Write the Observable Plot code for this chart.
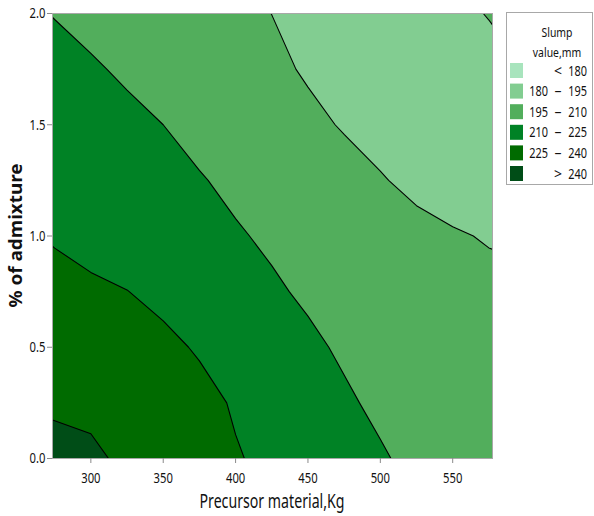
<!DOCTYPE html>
<html>
<head>
<meta charset="utf-8">
<script src="https://cdn.jsdelivr.net/npm/d3@7"></script>
<script src="https://cdn.jsdelivr.net/npm/@observablehq/plot@0.6"></script>
<style>
  html, body { margin: 0; padding: 0; background: #fff; }
  #chart svg { display: block; }
</style>
</head>
<body>
<div id="chart"></div>
<script>
// ---- Data (slump value, mm, on a grid) ----
const xGrid = [250, 275, 300, 325, 350, 375, 400, 425, 450, 475, 500, 525, 550, 575, 600];
const yGrid = [2.0, 1.75, 1.5, 1.25, 1.0, 0.75, 0.5, 0.25, 0.0];
const slumpAt2_00 = [212.0, 209.6, 207.2, 204.7, 202.3, 199.9, 197.4, 194.95, 194.0, 193.4, 193.1, 193.3, 193.9, 195.2, 196.6];
const slumpAt1_75 = [215.5, 213.3, 211.1, 208.6, 205.7, 202.8, 199.9, 197.0, 194.0, 193.3, 193.0, 192.6, 192.6, 193.5, 195.0];
const slumpAt1_50 = [219.2, 216.9, 214.6, 212.3, 210.0, 206.8, 203.5, 200.3, 197.1, 194.3, 193.5, 192.6, 192.3, 193.1, 194.3];
const slumpAt1_25 = [223.0, 220.5, 218.0, 215.6, 213.1, 210.7, 207.8, 204.7, 201.6, 198.3, 195.3, 194.0, 193.0, 193.6, 194.5];
const slumpAt1_00 = [226.6, 224.0, 221.4, 218.8, 216.2, 213.6, 211.0, 208.4, 206.0, 203.5, 200.0, 196.2, 195.4, 194.7, 194.5];
const slumpAt0_75 = [230.3, 228.6, 226.9, 225.2, 221.9, 218.4, 214.9, 211.4, 208.5, 206.1, 203.6, 201.0, 198.5, 196.1, 195.6];
const slumpAt0_50 = [235.0, 233.5, 232.3, 230.3, 227.8, 223.8, 219.8, 215.9, 211.9, 208.6, 205.9, 203.2, 200.5, 197.4, 196.3];
const slumpAt0_25 = [239.6, 238.4, 237.5, 235.3, 232.4, 228.7, 223.8, 219.7, 215.6, 211.4, 208.1, 205.2, 202.0, 198.8, 196.8];
const slumpAt0_00 = [244.0, 243.4, 242.0, 237.9, 234.0, 230.0, 225.9, 222.2, 218.4, 214.7, 211.0, 207.6, 204.0, 200.3, 197.5];

const xDomain = [273.5, 577.5];
const yDomain = [0, 2];
const xTicks = [300, 350, 400, 450, 500, 550];
const yTicks = [0, 0.5, 1.0, 1.5, 2.0];
const levels = [180, 195, 210, 225, 240];
const bandColors = ["#a8e4bd", "#82cd91", "#52ae5c", "#008225", "#006b00", "#004d17"];
const legendTitle = ["Slump", "value,mm"];
const legendLow = ["", "180", "195", "210", "225", ""];
const legendSym = ["<", "–", "–", "–", "–", ">"];
const legendHigh = ["180", "195", "210", "225", "240", "240"];
const xTitle = "Precursor material,Kg";
const yTitle = "% of admixture";

// ---- Build the dense grid (row 0 = top) ----
const grid = [
  ...slumpAt2_00, ...slumpAt1_75, ...slumpAt1_50, ...slumpAt1_25, ...slumpAt1_00,
  ...slumpAt0_75, ...slumpAt0_50, ...slumpAt0_25, ...slumpAt0_00
];
const dx = xGrid[1] - xGrid[0];
const dy = yGrid[0] - yGrid[1];

const W = 594, H = 516;
const mL = 52, mR = 102, mT = 13, mB = 58;

const svg = Plot.plot({
  width: W,
  height: H,
  marginLeft: mL,
  marginRight: mR,
  marginTop: mT,
  marginBottom: mB,
  style: {fontFamily: "'Noto Sans', 'Open Sans', sans-serif", fontSize: "15px", color: "#111", background: "#fff"},
  x: {domain: xDomain, label: null},
  y: {domain: yDomain, label: null},
  color: {type: "threshold", domain: levels, range: bandColors},
  marks: [
    Plot.contour(grid, {
      x1: xGrid[0] - dx / 2,
      x2: xGrid[xGrid.length - 1] + dx / 2,
      y1: yGrid[0] + dy / 2,
      y2: yGrid[yGrid.length - 1] - dy / 2,
      width: xGrid.length,
      height: yGrid.length,
      fill: Plot.identity,
      thresholds: levels,
      stroke: "#000",
      strokeWidth: 1.1,
      clip: true
    }),
    Plot.frame({stroke: "#a8a8a8", strokeWidth: 1}),
    Plot.axisX({ticks: xTicks, tickFormat: d3.format("d"), tickSize: 5, tickPadding: 9, stroke: "#8a8a8a", label: null}),
    Plot.axisY({ticks: yTicks, tickFormat: d3.format(".1f"), tickSize: 5, tickPadding: 2, stroke: "#8a8a8a", label: null})
  ]
});

document.getElementById("chart").appendChild(svg);

function squeeze(nodes, k) {
  nodes.forEach(el => {
    const L = el.getComputedTextLength();
    el.setAttribute("textLength", (L * k).toFixed(2));
    el.setAttribute("lengthAdjust", "spacingAndGlyphs");
  });
}
squeeze(svg.querySelectorAll('[aria-label="x-axis tick label"] text, [aria-label="y-axis tick label"] text'), 0.75);

const root = d3.select(svg);

// Axis titles
root.append("text")
  .attr("x", (mL + (W - mR)) / 2)
  .attr("y", 508)
  .attr("text-anchor", "middle")
  .attr("font-size", 20)
  .attr("fill", "#111")
  .attr("textLength", 145)
  .attr("lengthAdjust", "spacingAndGlyphs")
  .text(xTitle);

root.append("text")
  .attr("transform", `translate(16,${(mT + (H - mB)) / 2}) rotate(-90)`)
  .attr("text-anchor", "middle")
  .attr("dy", "0.35em")
  .attr("font-size", 18)
  .attr("font-weight", "bold")
  .attr("fill", "#111")
  .attr("textLength", 144)
  .attr("lengthAdjust", "spacingAndGlyphs")
  .text(yTitle);

// Legend
const lg = root.append("g").attr("font-size", 14).attr("fill", "#111");
lg.append("rect")
  .attr("x", 506.5).attr("y", 12.5)
  .attr("width", 86).attr("height", 172)
  .attr("fill", "#fff").attr("stroke", "#a8a8a8");
const titleNodes = [];
legendTitle.forEach((t, i) => {
  titleNodes.push(lg.append("text")
    .attr("x", 557).attr("y", 37 + i * 20)
    .attr("text-anchor", "middle")
    .attr("font-size", 13)
    .text(t).node());
});
const legendNodes = [];
bandColors.forEach((c, i) => {
  const y0 = 63 + i * 20.6;
  lg.append("rect").attr("x", 510).attr("y", y0).attr("width", 13).attr("height", 15).attr("fill", c);
  const base = y0 + 12.5;
  if (legendLow[i]) legendNodes.push(lg.append("text").attr("x", 548).attr("y", base).attr("text-anchor", "end").text(legendLow[i]).node());
  lg.append("text").attr("x", 558).attr("y", base).attr("text-anchor", "middle").text(legendSym[i]);
  legendNodes.push(lg.append("text").attr("x", 587).attr("y", base).attr("text-anchor", "end").text(legendHigh[i]).node());
});
squeeze(titleNodes, 0.8);
squeeze(legendNodes, 0.78);
</script>
</body>
</html>
